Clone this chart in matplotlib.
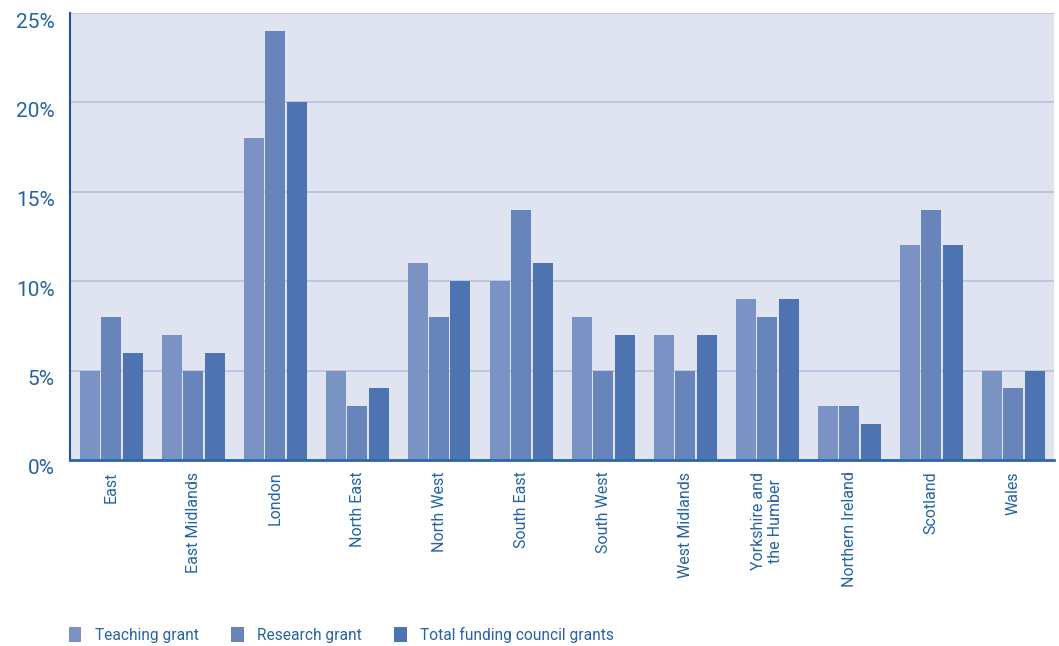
import matplotlib
matplotlib.use("Agg")
import matplotlib.pyplot as plt
from matplotlib.patches import Patch
from matplotlib.transforms import ScaledTranslation
import numpy as np

regions = ["East", "East Midlands", "London", "North East", "North West",
           "South East", "South West", "West Midlands", "Yorkshire and\nthe Humber",
           "Northern Ireland", "Scotland", "Wales"]
teaching = [5, 7, 18, 5, 11, 10, 8, 7, 9, 3, 12, 5]
research = [8, 5, 24, 3, 8, 14, 5, 5, 8, 3, 14, 4]
total = [6, 6, 20, 4, 10, 11, 7, 7, 9, 2, 12, 5]
series_names = ["Teaching grant", "Research grant", "Total funding council grants"]
y_ticks = [0, 5, 10, 15, 20, 25]

colors = ["#7b93c4", "#6784bb", "#4d73b0"]
text_color = "#2563a3"
bg = "#dfe4f0"
grid = "#b9c1df"

plt.rcParams["font.family"] = ["Roboto", "DejaVu Sans"]

fig = plt.figure(figsize=(10.59, 6.46), dpi=100)
ax = fig.add_axes([70 / 1059, 1 - 460 / 646, 984 / 1059, 447 / 646])
ax.set_facecolor(bg)

x = np.arange(len(regions))
w = 20 / 82
step = 21.5 / 82
for i, (vals, c) in enumerate(zip([teaching, research, total], colors)):
    ax.bar(x + (i - 1) * step, vals, width=w, color=c, zorder=3)

ax.set_xlim(-0.5, len(regions) - 0.5)
ax.set_ylim(0, 25)
ax.set_yticks(y_ticks)
ax.set_yticklabels([f"{v}%" for v in y_ticks], fontsize=15, color=text_color)
ax.yaxis.grid(True, color=grid, linewidth=1.2, zorder=1)
ax.tick_params(axis="y", length=0, pad=11)
ax.tick_params(axis="x", length=0)
ax.set_xticks([])
# tick labels sit slightly below their gridlines
shift = ScaledTranslation(0, -7 / 100, fig.dpi_scale_trans)
for lbl in ax.get_yticklabels():
    lbl.set_transform(lbl.get_transform() + shift)

for s in ["top", "right"]:
    ax.spines[s].set_visible(False)
ax.spines["left"].set_color("#1f5596")
ax.spines["left"].set_linewidth(1.5)
ax.spines["bottom"].set_color("#2a67a8")
ax.spines["bottom"].set_linewidth(2)
ax.spines["bottom"].set_zorder(4)

for xi, name in zip(x, regions):
    ax.text(xi, -0.65, name, rotation=90, ha="center", va="top",
            multialignment="center", fontsize=11.5, color=text_color,
            transform=ax.transData)

handles = [Patch(facecolor=c, edgecolor="none") for c in colors]
fig.legend(handles, series_names, loc="lower left", bbox_to_anchor=(55 / 1059, -0.017),
           ncol=3, frameon=False, fontsize=11.2, labelcolor=text_color,
           handlelength=0.8, handleheight=1.1, handletextpad=0.85, columnspacing=2.1)

fig.savefig("out.png", dpi=100, facecolor="white")
